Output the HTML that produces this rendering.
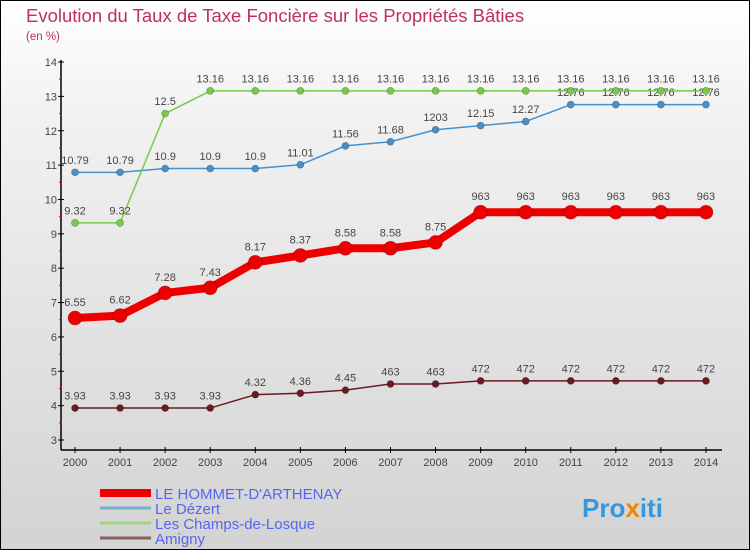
<!DOCTYPE html>
<html><head><meta charset="utf-8"><style>
body{margin:0;width:750px;height:550px;overflow:hidden;font-family:"Liberation Sans",sans-serif}
#c{position:absolute;left:0;top:0;width:748px;height:548px;border:1px solid #000;background:linear-gradient(#fff,#f2f2f2 20%,#d3d3d3)}
</style></head><body>
<div id="c">
<svg id="s" width="750" height="550" style="position:absolute;left:-1px;top:-1px">
<text x="26" y="22" font-size="18.5" fill="#c0305a">Evolution du Taux de Taxe Foncière sur les Propriétés Bâties</text>
<text x="26" y="40" font-size="11.5" fill="#c0305a">(en %)</text>
<g id="ax"></g><g id="ser"></g>
<g>
<line x1="100" y1="493" x2="151" y2="493" stroke="#ee0000" stroke-width="8"/>
<text x="155" y="499" font-size="15" fill="#5566ee">LE HOMMET-D'ARTHENAY</text>
<line x1="100" y1="508" x2="151" y2="508" stroke="#7aaed0" stroke-width="3"/>
<text x="155" y="514" font-size="15" fill="#5566ee">Le Dézert</text>
<line x1="100" y1="523" x2="151" y2="523" stroke="#9ed680" stroke-width="3"/>
<text x="155" y="529" font-size="15" fill="#5566ee">Les Champs-de-Losque</text>
<line x1="100" y1="538" x2="151" y2="538" stroke="#8a6060" stroke-width="3"/>
<text x="155" y="544" font-size="15" fill="#5566ee">Amigny</text>
</g>
<text x="582" y="517" font-size="26" font-weight="bold" fill="#3399dd">Pro<tspan fill="#ee8800">x</tspan>iti</text>
</svg></div>
<script>
const years=[2000,2001,2002,2003,2004,2005,2006,2007,2008,2009,2010,2011,2012,2013,2014];
const yTicks=[3,4,5,6,7,8,9,10,11,12,13,14];
const hommet=[6.55,6.62,7.28,7.43,8.17,8.37,8.58,8.58,8.75,9.63,9.63,9.63,9.63,9.63,9.63];
const dezert=[10.79,10.79,10.9,10.9,10.9,11.01,11.56,11.68,12.03,12.15,12.27,12.76,12.76,12.76,12.76];
const champs=[9.32,9.32,12.5,13.16,13.16,13.16,13.16,13.16,13.16,13.16,13.16,13.16,13.16,13.16,13.16];
const amigny=[3.93,3.93,3.93,3.93,4.32,4.36,4.45,4.63,4.63,4.72,4.72,4.72,4.72,4.72,4.72];
const NS='http://www.w3.org/2000/svg';
const X=i=>75+i*45.07, Y=v=>440-(v-3)*34.36;
function mk(t,a,p){const e=document.createElementNS(NS,t);for(const k in a)e.setAttribute(k,a[k]);p.appendChild(e);return e;}
const ax=document.getElementById('ax'),ser=document.getElementById('ser');
let yl=mk('line',{x1:61,y1:60,x2:61,y2:450,stroke:'#000','stroke-width':1.5},ax);


let xl=mk('line',{x1:61,y1:450,x2:722,y2:450,stroke:'#000','stroke-width':1.5},ax);


yTicks.forEach(v=>{
 mk('line',{x1:58,y1:Y(v),x2:64,y2:Y(v),stroke:'#000'},ax);
 if(v<14)mk('line',{x1:59,y1:Y(v+0.5),x2:62,y2:Y(v+0.5),stroke:'#e00'},ax);
 const t=mk('text',{x:57,y:Y(v)+4,'font-size':11,fill:'#444','text-anchor':'end'},ax);
 t.textContent=v;
 
 
});
years.forEach((y,i)=>{
 mk('line',{x1:X(i),y1:447,x2:X(i),y2:453,stroke:'#000'},ax);
 const t=mk('text',{x:X(i),y:466,'font-size':11,fill:'#444','text-anchor':'middle'},ax);
 t.textContent=y;
 
 
});
function series(name,data,color,w,r,lbl){
 const g=mk('g',{},ser);
 
 
 const p=mk('polyline',{points:data.map((v,i)=>X(i)+','+Y(v)).join(' '),fill:'none',stroke:color,'stroke-width':w,'stroke-linejoin':'round'},g);
 
 
 data.forEach((v,i)=>{
  const c=mk('circle',{cx:X(i),cy:Y(v),r:r,fill:color,stroke:'rgba(0,0,0,0.3)','stroke-width':0.7},g);
  
  
  const t=mk('text',{x:X(i),y:Y(v)-(r+5),'font-size':11,fill:'#444','text-anchor':'middle'},g);
  t.textContent=lbl(v);
  
  
 });
}
series('amigny',amigny,'#6b1a22',1.5,3.5,v=>v>=4.6?String(v).replace('.',''):String(v));
series('dezert',dezert,'#4a90c8',1.5,3.5,v=>v==12.03?'1203':String(v));
series('champs',champs,'#77cc44',1.5,3.5,String);
series('hommet',hommet,'#ee0000',8,7,v=>v>=9.6?String(v).replace('.',''):String(v));
</script>
</body></html>
